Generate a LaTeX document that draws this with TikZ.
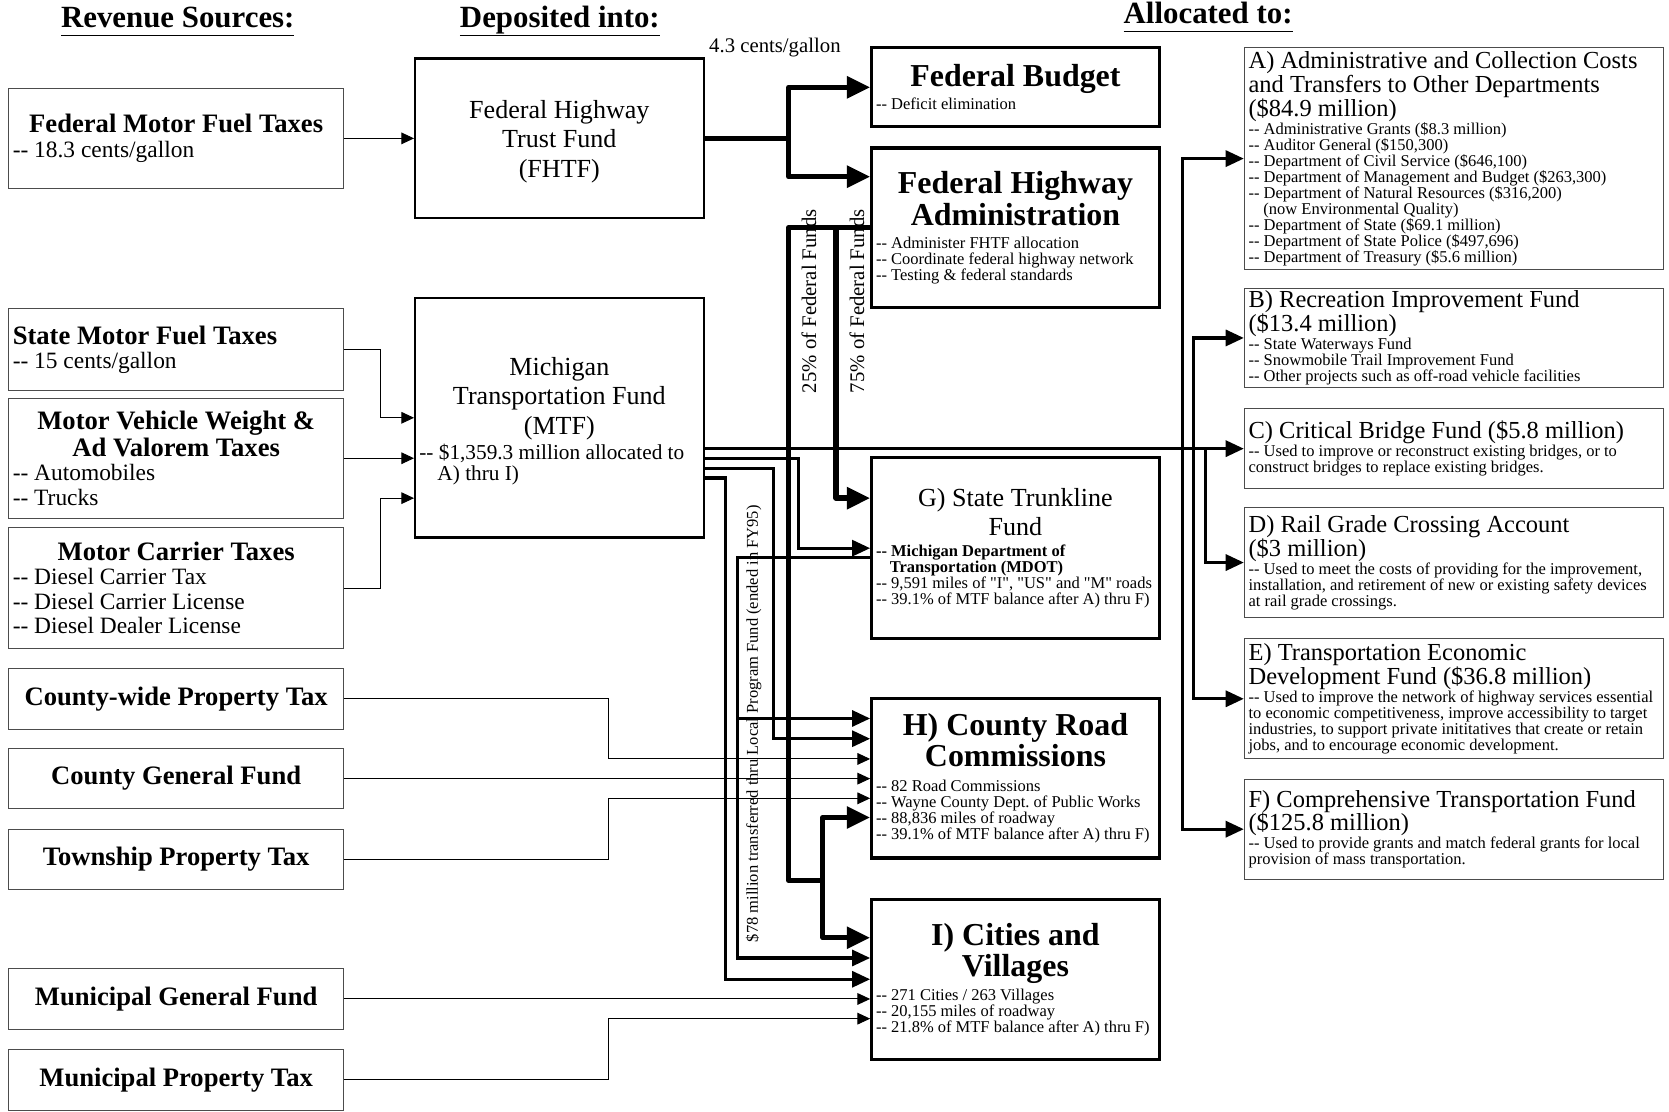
\documentclass[tikz,border=0pt]{standalone}
\usepackage{fontspec}
\setmainfont{Liberation Serif}
\usetikzlibrary{arrows.meta}

\newcommand\fixspace{\spaceskip=\fontdimen2\font\xspaceskip=\fontdimen2\font\relax}
\newcommand\headfont{\fontsize{29}{30}\selectfont\bfseries}
\newcommand\srcfont{\fontsize{25}{25}\selectfont\bfseries\fixspace}
\newcommand\itemfont{\fontsize{22}{23}\selectfont\mdseries\fixspace}
\newcommand\fundfont{\fontsize{24.5}{27.5}\selectfont\mdseries\fixspace}
\newcommand\mtffont{\fontsize{20}{20}\selectfont\mdseries\fixspace}
\newcommand\bigfont{\fontsize{30}{29.5}\selectfont\bfseries\fixspace}
\newcommand\smallfont{\fontsize{15.5}{15}\selectfont\mdseries\fixspace}
\newcommand\sharefont{\fontsize{23}{22.5}\selectfont\mdseries\fixspace}
\newcommand\notefont{\fontsize{19.5}{20}\selectfont\mdseries}
\newcommand\hdr[1]{\underline{#1\vphantom{p}}}

\begin{document}
\begin{tikzpicture}[x=1pt, y=-1pt]
\tikzset{
  srcbox/.style={draw=black!70, line width=0.9pt, text width=307pt, inner xsep=4pt, inner ysep=0pt, align=left},
  fundbox/.style={draw, line width=2pt, text width=263pt, inner xsep=4pt, inner ysep=0pt, align=left},
  allocbox/.style={draw, line width=3pt, text width=262pt, inner xsep=4pt, inner ysep=0pt, align=left},
  sharebox/.style={draw=black!70, line width=0.9pt, text width=386pt, inner xsep=4pt, inner ysep=0pt, align=left},
  thinflow/.style={line width=0.9pt, >={Triangle[length=12pt,width=11pt]}},
  mtfflow/.style={line width=3pt, >={Triangle[length=17pt,width=15pt]}},
  fedflow/.style={line width=5pt, line join=round, >={Triangle[length=22pt,width=20pt]}},
  rotlabel/.style={rotate=90, inner sep=0pt}
}
\useasboundingbox (0,0) rectangle (1568,1044);

% column headings
\node (hrev) at (167,20) {\headfont\hdr{Revenue Sources:}};
\node (hdep) at (526,20) {\headfont\hdr{Deposited into:}};
\node (hall) at (1135,16) {\headfont\hdr{Allocated to:}};

% revenue sources
\node[srcbox, minimum height=94pt] (fmft) at (165.5,130)
  {{\centering\srcfont Federal Motor Fuel Taxes\par}\itemfont -{}- 18.3 cents/gallon\par};
\node[srcbox, minimum height=77pt] (smft) at (165.5,328.5)
  {\srcfont State Motor Fuel Taxes\par\itemfont -{}- 15 cents/gallon\par};
\node[srcbox, minimum height=113pt] (mvwt) at (165.5,430.5)
  {{\centering\srcfont Motor Vehicle Weight \&\\ Ad Valorem Taxes\par}
   \itemfont -{}- Automobiles\\ -{}- Trucks\par};
\node[srcbox, minimum height=113pt] (mct) at (165.5,552.5)
  {{\centering\srcfont Motor Carrier Taxes\par}
   \itemfont -{}- Diesel Carrier Tax\\ -{}- Diesel Carrier License\\ -{}- Diesel Dealer License\par};
\node[srcbox, align=center, minimum height=57pt] (cwpt) at (165.5,656.5) {\srcfont County-wide Property Tax\par};
\node[srcbox, align=center, minimum height=57pt] (cgf) at (165.5,731.5) {\srcfont County General Fund\par};
\node[srcbox, align=center, minimum height=57pt] (tpt) at (165.5,807.5) {\srcfont Township Property Tax\par};
\node[srcbox, align=center, minimum height=57pt] (mgf) at (165.5,938.5) {\srcfont Municipal General Fund\par};
\node[srcbox, align=center, minimum height=57pt] (mpt) at (165.5,1014.5) {\srcfont Municipal Property Tax\par};

% funds
\node[fundbox, align=center, minimum height=150pt] (fhtf) at (525.5,130)
  {\fundfont\rule{0pt}{23pt}Federal Highway\\ Trust Fund\\ (FHTF)\par};
\node[fundbox, minimum height=225pt] (mtf) at (525.5,392.5)
  {{\centering\fundfont\rule{0pt}{24pt}Michigan\\ Transportation Fund\\ (MTF)\par}\vspace{4pt}
   \mtffont -{}- \$1,359.3 million allocated to\\ \hspace*{17pt}A) thru I)\par};

% federal and local recipients
\node[allocbox, minimum height=74pt] (fb) at (954,82)
  {{\centering\bigfont Federal Budget\par}\vspace{3pt}
   \smallfont -{}- Deficit elimination\par};
\node[allocbox, minimum height=150pt] (fha) at (954,214)
  {{\centering\bigfont Federal Highway\\ Administration\par}\vspace{7pt}
   \smallfont -{}- Administer FHTF allocation\\ -{}- Coordinate federal highway network\\ -{}- Testing \& federal standards\par};
\node[allocbox, minimum height=170pt] (stf) at (954,515)
  {{\centering\fundfont G) State Trunkline\\ Fund\par}\vspace{5pt}
   {\smallfont\bfseries\fixspace -{}- Michigan Department of\\ \hspace*{13pt}Transportation (MDOT)\par}
   \smallfont -{}- 9,591 miles of \textquotedbl I\textquotedbl, \textquotedbl US\textquotedbl{} and \textquotedbl M\textquotedbl{} roads\\ -{}- 39.1\% of MTF balance after A) thru F)\par};
\node[allocbox, minimum height=150pt] (crc) at (954,731)
  {{\centering\bigfont H) County Road\\ Commissions\par}\vspace{8pt}
   \smallfont -{}- 82 Road Commissions\\ -{}- Wayne County Dept. of Public Works\\ -{}- 88,836 miles of roadway\\ -{}- 39.1\% of MTF balance after A) thru F)\par};
\node[allocbox, minimum height=150pt] (cv) at (954,920)
  {{\centering\bigfont I) Cities and\\ Villages\par}\vspace{4pt}
   \smallfont -{}- 271 Cities / 263 Villages\\ -{}- 20,155 miles of roadway\\ -{}- 21.8\% of MTF balance after A) thru F)\par};

% MTF shares
\node[sharebox, minimum height=208pt] (adm) at (1366,149)
  {\sharefont A) Administrative and Collection Costs\\ and Transfers to Other Departments\\ (\$84.9 million)\par
   \smallfont -{}- Administrative Grants (\$8.3 million)\\ -{}- Auditor General (\$150,300)\\
   -{}- Department of Civil Service (\$646,100)\\ -{}- Department of Management and Budget (\$263,300)\\
   -{}- Department of Natural Resources (\$316,200)\\ \hspace*{14pt}(now Environmental Quality)\\
   -{}- Department of State (\$69.1 million)\\ -{}- Department of State Police (\$497,696)\\
   -{}- Department of Treasury (\$5.6 million)\par};
\node[sharebox, minimum height=93pt] (rif) at (1366,317.5)
  {\sharefont B) Recreation Improvement Fund\\ (\$13.4 million)\par
   \smallfont -{}- State Waterways Fund\\ -{}- Snowmobile Trail Improvement Fund\\ -{}- Other projects such as off-road vehicle facilities\par};
\node[sharebox, minimum height=75pt] (cbf) at (1366,421.5)
  {\sharefont C) Critical Bridge Fund (\$5.8 million)\par
   \smallfont -{}- Used to improve or reconstruct existing bridges, or to\\ construct bridges to replace existing bridges.\par};
\node[sharebox, minimum height=103pt] (rgca) at (1366,528.5)
  {\sharefont D) Rail Grade Crossing Account\\ (\$3 million)\par
   \smallfont -{}- Used to meet the costs of providing for the improvement,\\ installation, and retirement of new or existing safety devices\\ at rail grade crossings.\par};
\node[sharebox, minimum height=113pt] (tedf) at (1366,656.5)
  {\sharefont E) Transportation Economic\\ Development Fund (\$36.8 million)\par
   \smallfont -{}- Used to improve the network of highway services essential\\ to economic competitiveness, improve accessibility to target\\ industries, to support private inititatives that create or retain\\ jobs, and to encourage economic development.\par};
\node[sharebox, minimum height=94pt] (ctf) at (1366,779)
  {\sharefont F) Comprehensive Transportation Fund\\ (\$125.8 million)\par
   \smallfont -{}- Used to provide grants and match federal grants for local\\ provision of mass transportation.\par};

% revenue into the funds
\draw[thinflow,->] (fmft.east) -- (fhtf.west);
\draw[thinflow,->] (smft.east) -- ++(34,0) |- (mtf.west);
\draw[thinflow,->] (mvwt.east) -- (mvwt.east -| mtf.west);
\draw[thinflow,->] (mct.east) -- ++(34,0) |- ([yshift=-75.5pt]mtf.west);

% local revenue
\draw[thinflow,->] (cwpt.east) -- ++(248,0) |- ([yshift=18pt]crc.west);
\draw[thinflow,->] (cgf.east) -- (cgf.east -| crc.west);
\draw[thinflow,->] (tpt.east) -- ++(248,0) |- ([yshift=-19pt]crc.west);
\draw[thinflow,->] (mgf.east) -- (mgf.east -| cv.west);
\draw[thinflow,->] (mpt.east) -- ++(248,0) |- ([yshift=-37pt]cv.west);

% MTF allocation
\draw[mtfflow,->] (mtf.east |- cbf.west) -- (cbf.west);
\draw[mtfflow,<->] (adm.west) -| ([xshift=-58pt]ctf.west) -- (ctf.west);
\draw[mtfflow,<->] (rif.west) -| ([xshift=-47pt]tedf.west) -- (tedf.west);
\draw[mtfflow,->] ([xshift=-36pt]cbf.west) |- (rgca.west);
\draw[mtfflow,->] ([yshift=-38.5pt]mtf.east) -| ([xshift=-67pt]stf.west) -- (stf.west);
\draw[mtfflow,->] ([yshift=-47.5pt]mtf.east) -| ([xshift=-91pt,yshift=37pt]crc.west) -- ([yshift=37pt]crc.west);
\draw[mtfflow,->] ([yshift=-56.5pt]mtf.east) -| ([xshift=-136pt]cv.west) -- (cv.west);

% local program fund
\draw[mtfflow,->] ([yshift=-9pt]stf.west) -| ([xshift=-125pt,yshift=20pt]cv.west) -- ([yshift=20pt]cv.west);
\draw[mtfflow,->] ([xshift=-125pt,yshift=56pt]crc.west) -- ([yshift=56pt]crc.west);
\node[rotlabel] (lbl78) at (708,680) {\smallfont \$78 million transferred thru Local Program Fund (ended in FY95)};

% federal funds
\coordinate (fsplit) at (741,130);
\draw[fedflow] (fhtf.east) -- (fsplit);
\draw[fedflow,->] (fsplit) |- (fb.west);
\draw[fedflow,->] (fsplit) |- ([yshift=48pt]fha.west);
\node (lbl43) at (728,45) {\notefont 4.3 cents/gallon};

\coordinate (fedlow) at (773,827);
\draw[fedflow] (fha.west) -| (741,827) -- (fedlow);
\draw[fedflow,->] (fedlow) |- ([yshift=-37pt]crc.west);
\draw[fedflow,->] (fedlow) |- ([yshift=39pt]cv.west);
\draw[fedflow,->] ([xshift=-32pt]fha.west) |- ([yshift=47pt]stf.west);
\node[rotlabel] (lbl25) at (760,283) {\notefont 25\% of Federal Funds};
\node[rotlabel] (lbl75) at (805,283) {\notefont 75\% of Federal Funds};

\end{tikzpicture}
\end{document}
